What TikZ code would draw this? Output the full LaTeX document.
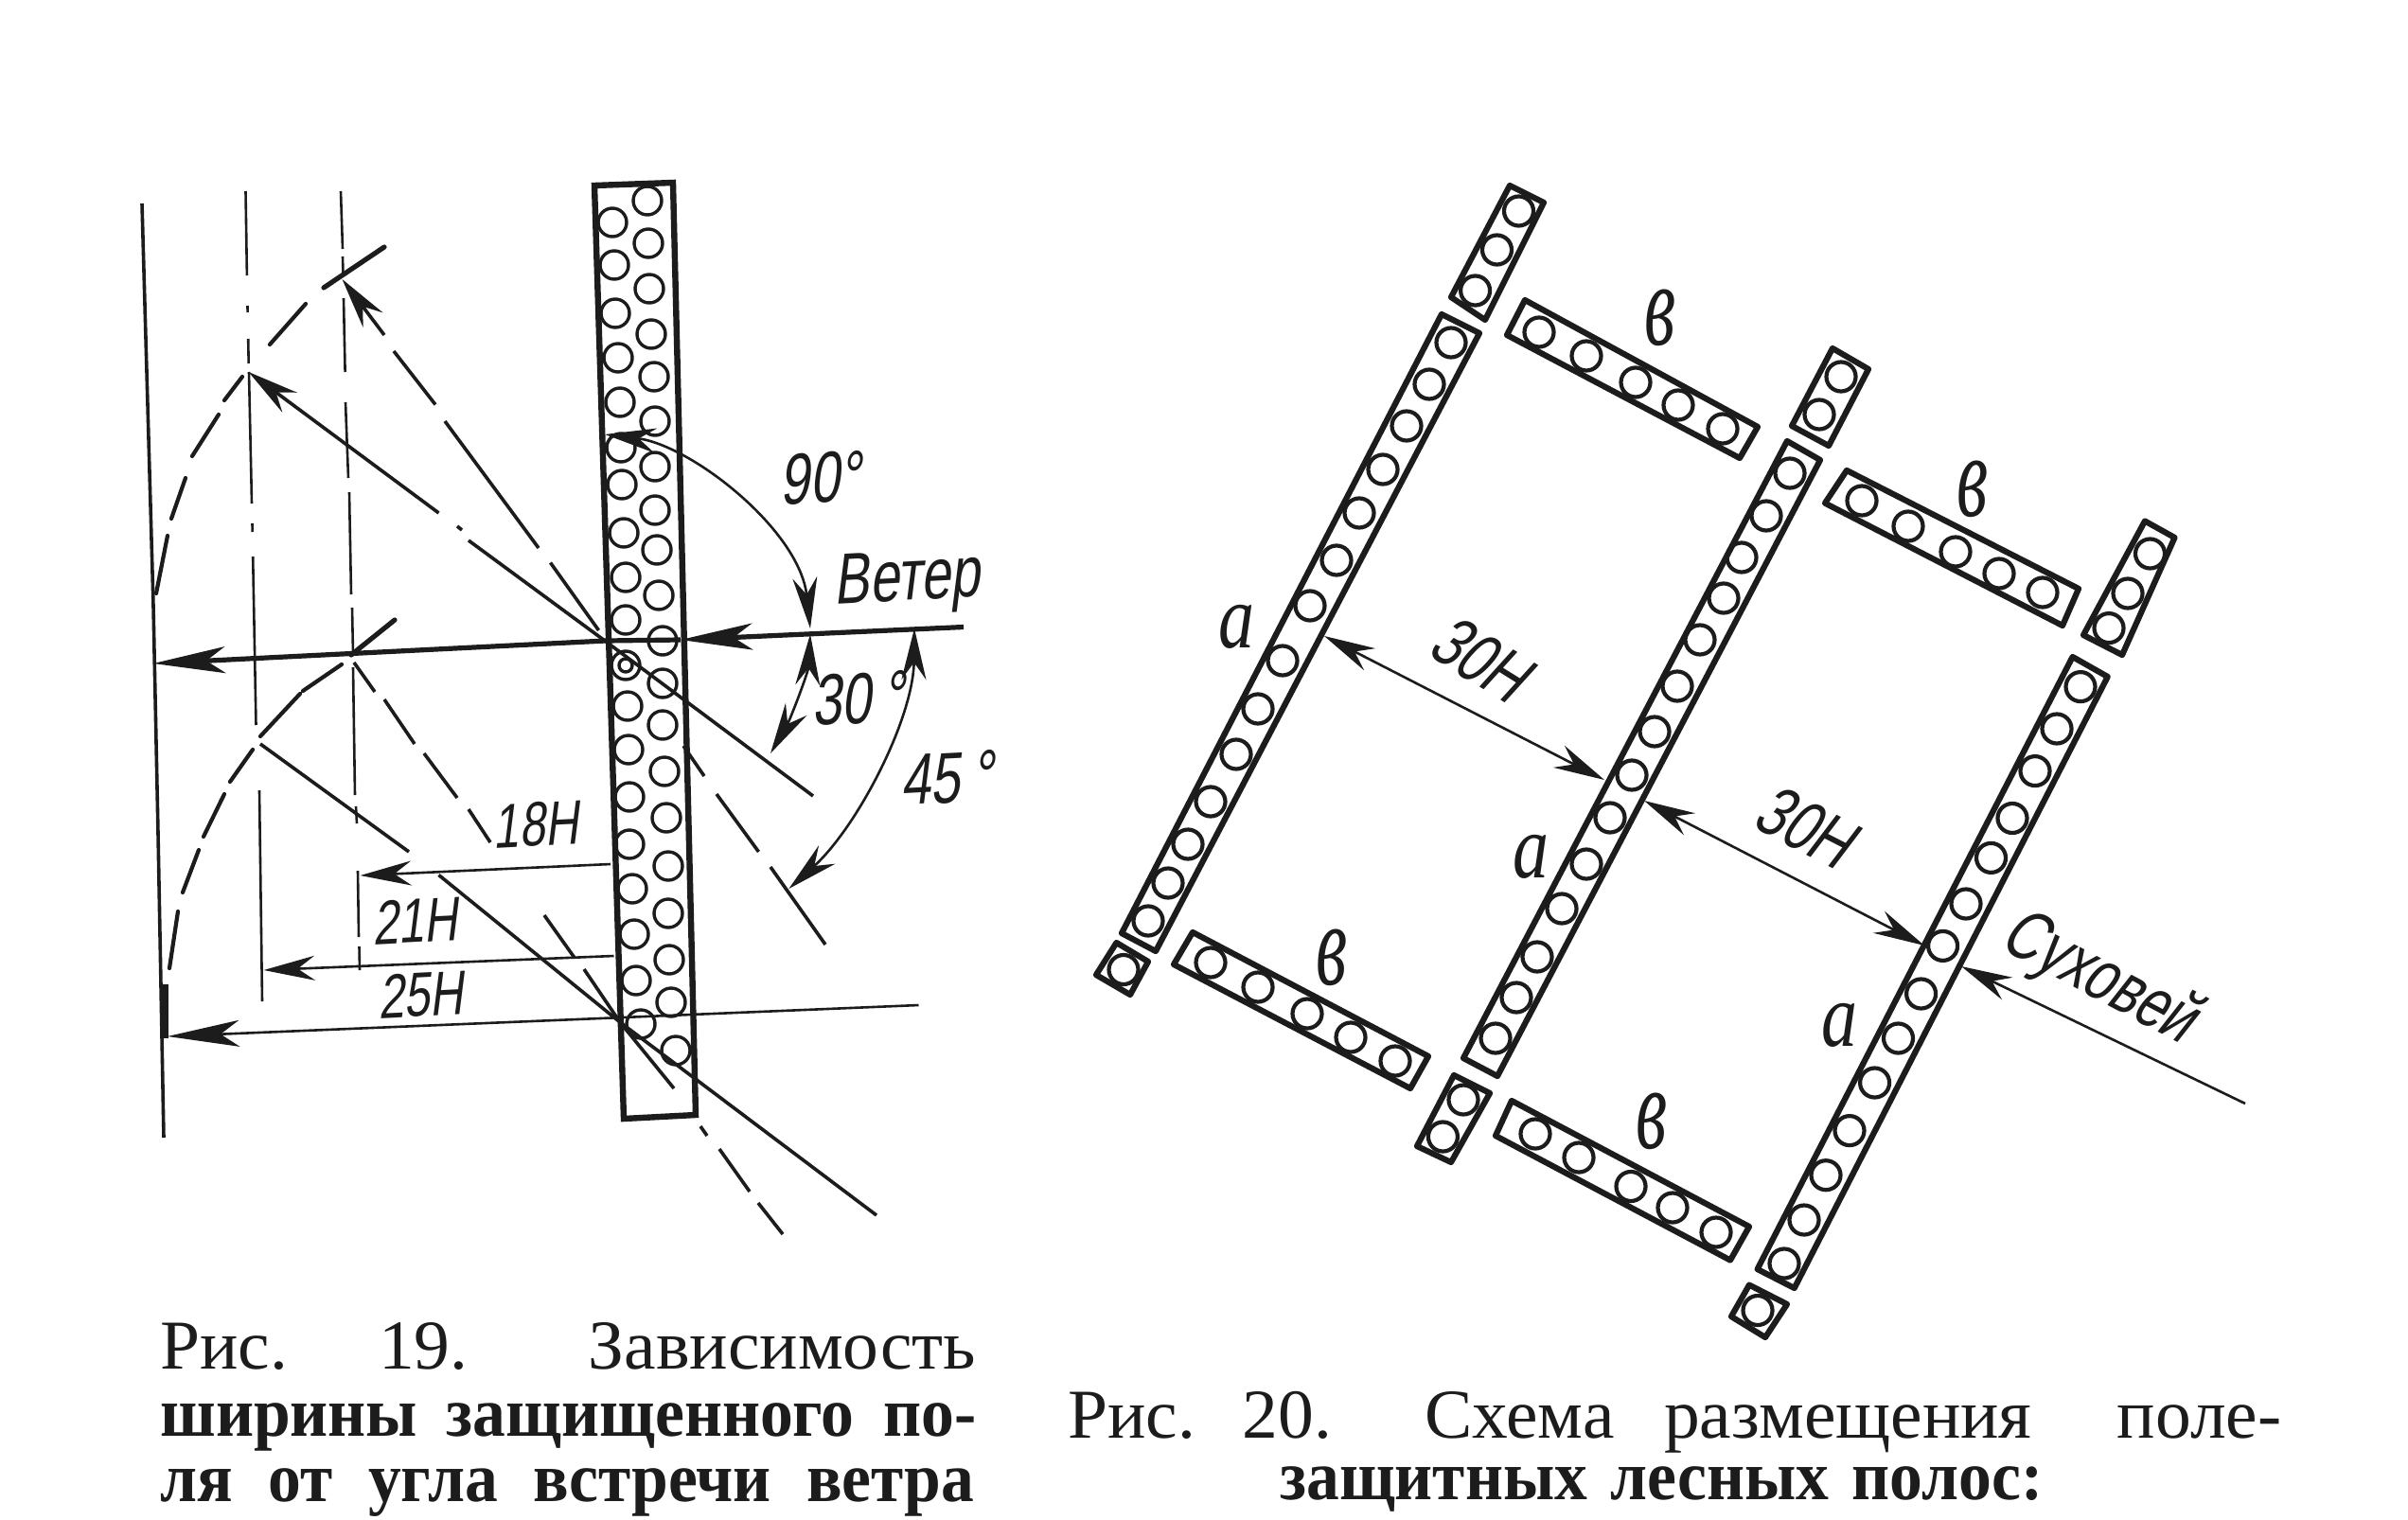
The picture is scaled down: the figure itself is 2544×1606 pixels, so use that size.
\documentclass[tikz,border=0pt]{standalone}
\usepackage{fontspec}
\usetikzlibrary{arrows.meta}
\setmainfont{Liberation Serif}
\newfontfamily\capreg[FakeStretch=1.02]{Liberation Serif}
\newfontfamily\capbold[FakeStretch=0.94]{Liberation Serif Bold}
\newfontfamily\handf[FakeStretch=0.74,FakeSlant=0.18]{Liberation Sans}
\newfontfamily\handi{Liberation Serif Italic}
\newcommand\capline[3]{\makebox[#1][s]{\fontsize{#2}{#2}\selectfont #3}}
\newcommand\wgap[1]{\hskip0pt plus #1fil\relax}
\newcommand\tallb{\scalebox{.95}[1.55]{в}}
\newcommand\talla{\scalebox{.95}[1.2]{а}}
\definecolor{ink}{HTML}{1C1C1C}
\tikzset{
  thick line/.style={draw=ink,line width=2.6pt},
  thin line/.style={draw=ink,line width=1.3pt},
  mid line/.style={draw=ink,line width=1.8pt},
  arc dash/.style={draw=ink,line width=2.1pt,line cap=round},
  beltbox/.style={draw=ink,line width=3.1pt,line join=round},
  treec/.style={draw=ink,line width=2.1pt},
  treel/.style={draw=ink,line width=1.7pt},
  bighead/.tip={Stealth[length=38pt,width=14pt,inset=10pt]},
  smallhead/.tip={Stealth[length=27pt,width=13pt,inset=9pt]},
  hand/.style={text=ink,inner sep=0pt,font=\handf\fontsize{33}{33}\selectfont},
  handbig/.style={text=ink,inner sep=0pt,font=\handf\fontsize{38}{38}\selectfont},
  letter/.style={text=ink,inner sep=0pt,font=\handi\fontsize{40}{40}\selectfont},
  captext/.style={text=ink,inner sep=0pt,anchor=base west},
}
\newcommand\trees[1]{\foreach \px/\py in {#1}{\draw[treec] (\px,\py) circle[radius=15.5];}}
\newcommand\treesl[1]{\foreach \px/\py in {#1}{\draw[treel] (\px,\py) circle[radius=15];}}
\newcommand\belt[4]{\draw[beltbox] #1 -- #2 -- #3 -- #4 -- cycle;}
\begin{document}
\begin{tikzpicture}[x=0.5pt,y=-0.5pt]
\useasboundingbox[fill=white] (0,0) rectangle (2544,1606);
% ---------- Fig 19: strip
\draw[draw=ink,line width=3.2pt,line join=miter] (628,196) -- (711,193) -- (735,1178) -- (659,1182) -- cycle;
\treesl{647/235,649/280,650/331,653/378,655/425,656/473,657/512,659/563,661/610,661/655,661/703,663/746,664/792,665/842,665/892,668/939,670/987,672/1036,677/1082,684/212,685/257,686/305,688/353,691/398,692/445,692/493,692/539,694/581,696/629,700/677,700/722,700/766,702/815,704/864,706/915,706/965,707/1014,709/1059,714/1110}
\draw[treel] (661,703) circle[radius=7];
% left boundary
\draw[mid line] (150,215) -- (162,640) -- (167,880) -- (173,1202);
\draw[draw=ink,line width=4.5pt] (173,1040) -- (173,1097);
% dash-dot vertical
\draw[thin line]
  (259.5,202) -- (260.9,291)  (261.5,323) -- (261.6,330)  (262.2,358) -- (262.7,384)
  (263,393) -- (266,532)  (266.5,553) -- (266.7,562)  (267.2,588) -- (270.5,766)
  (274,835) -- (277,1058);
% dashed vertical
\draw[thin line] (360,202) -- (362,263) (362,271) -- (362.5,289) (363,315) -- (364.6,393)
  (365,425) -- (368,505) (369,520) -- (371,628) (372,642) -- (373,690)
  (373,705) -- (375,840) (376,852) -- (377,870) (378,920) -- (379,990) (379.5,1000) -- (380,1025);
% arcs (upper)
\draw[arc dash] (165,627) -- (177,566) (181,548) -- (196,505) (203,482) -- (231,438) (237,423) -- (256,398) (285,364) -- (323,321);
\draw[arc dash,line width=2.6pt] (342,304) -- (406,261);
% arcs (lower)
\draw[arc dash] (179,1023) -- (188,963) (193,943) -- (210,898) (215,884) -- (237,839) (243,826) -- (267,792) (275,778) -- (317,733) (320,730) -- (361,702);
\draw[arc dash,line width=2.6pt] (371,692) -- (417,655);
% main horizontal
\coordinate (mL) at (162,701); \coordinate (mR) at (1018,662.5);
\draw[thick line,-{bighead}] (640,677) -- (mL);
\draw[thick line,-{bighead}] (mR) -- (719,676);
\draw[thick line] (719,676) -- (640,677);
% centre rays
\draw[mid line,-{smallhead}] (463.5,542) -- (262.6,393);
\draw[mid line] (483,556) -- (488,560) (495,571) -- (639,677) -- (859,841);
\draw[mid line] (632.5,666) -- (581.5,594.5) (569,579) -- (470,445) (460,427.5) -- (416,371);
\draw[mid line,-{smallhead}] (406,354) -- (361.5,295);
% lower right dashed ray
\draw[mid line] (722,788) -- (744,820) (757,839) -- (801.5,900) (814,916) -- (872,998);
% lower left dashed
\draw[mid line] (374,700) -- (396,731) (406,739) -- (438,786) (448,796) -- (483,843) (495,855) -- (518,890)
  (575,967) -- (607,1012) (617,1024) -- (655,1080) -- (712,1150) (740,1190) -- (747,1200) (760,1214) -- (792,1259) (801,1271) -- (827,1304);
% lower left solid
\draw[mid line] (275,786) -- (432,900) (463.5,924.5) -- (655,1080) -- (926,1284);
% horizontals
\draw[thin line,-{bighead}] (970.5,1062) -- (177,1095);
\draw[thin line,-{smallhead}] (645,913) -- (380.6,925);
\draw[thin line,-{smallhead}] (648.5,1010) -- (278.6,1025);
% angle arcs
\draw[thin line,{smallhead}-{smallhead}] (639,459) .. controls (730,470) and (845,560) .. (856,664);
\draw[thin line,{smallhead}-{smallhead}] (856,670) .. controls (854,710) and (835,760) .. (814,796);
\draw[thin line,{smallhead}-{smallhead}] (966,664) .. controls (965,760) and (905,875) .. (833.4,939);
% labels
\node[handbig,rotate=3] (ninety) at (866,505) {90°};
\node[handbig,rotate=3] (veter) at (958,616) {Ветер};
\node[handbig,rotate=3] (thirty) at (906,738) {30\,°};
\node[handbig,rotate=3] (forty) at (1000,822) {45\,°};
\node[hand,rotate=3] (h18) at (565.5,871) {18H};
\node[hand,rotate=3] (h21) at (438,973) {21H};
\node[hand,rotate=3] (h25) at (444,1051) {25H};
% ---------- Fig 20
\belt{(1595,196)}{(1631,214)}{(1569,338)}{(1533,314)}
\trees{1604.5/223,1581.5/264,1558.6/307}
\belt{(1523,332)}{(1563,352)}{(1221,1005)}{(1185,986)}
\trees{1533/362,1510/406,1486/450,1461/496,1436/542,1412/592,1384/640,1355/698,1329/749,1306/797,1279/847,1255/892,1234/933,1213/973}
\belt{(1611,317)}{(1857,451)}{(1838,484)}{(1592,354)}
\trees{1626/351,1676/376,1728/404,1773/428,1820/453}
\belt{(1936,368)}{(1974,390)}{(1932,471)}{(1893,450)}
\trees{1945/398,1922/438}
\belt{(1888,466)}{(1923,486)}{(1582,1137)}{(1546,1118)}
\trees{1891/500,1866/545,1840/589,1821/632,1796/676,1772/725,1748/773,1724/819,1701/864,1676/913,1650/960,1624/1011,1602/1054,1580/1097}
\belt{(1260,985)}{(1509,1116)}{(1490,1150)}{(1240,1019)}
\trees{1279/1017,1329/1043,1381/1071,1427/1096,1474/1121}
\belt{(1179.5,996)}{(1213,1016)}{(1194,1051)}{(1158,1030)}
\trees{1187/1024.5}
\belt{(1536,1136)}{(1574,1155)}{(1533,1228)}{(1497,1211)}
\trees{1546/1162,1524.4/1201}
\belt{(1597,1163)}{(1848,1296)}{(1828,1331.5)}{(1580,1200)}
\trees{1622/1198,1668/1223,1723/1253.5,1767/1276,1813/1302}
\belt{(1848,1357.6)}{(1888,1378)}{(1865,1413)}{(1829,1391)}
\trees{1857/1384.5}
\belt{(2189.6,694)}{(2226.7,715)}{(1895.7,1361)}{(1856.6,1341)}
\trees{2198/725.6,2173/770,2150/814.6,2126/864.5,2103.5/906.4,2077/955,2052.6/999.4,2029.6/1050,2005.5/1097,1980.6/1144,1954/1194.6,1929/1241.7,1906/1289,1885/1335}
\belt{(1951,497)}{(2196,622)}{(2179,661)}{(1928,531.6)}
\trees{1967/529,2016/556,2066/583,2112/606,2158/626}
\belt{(2266,550.5)}{(2297.5,568)}{(2242,692)}{(2201,671)}
\trees{2271.5/585,2248/627,2228/663.6}
% arrows
\draw[thin line,{smallhead}-{smallhead}] (1399,672) -- (1695,824);
\draw[thin line,{smallhead}-{smallhead}] (1737,846) -- (2033,999);
\draw[thin line,{smallhead}-] (2072,1021) -- (2372,1166);
% labels
\node[handbig,rotate=-32] (h30a) at (1564,696) {30H};
\node[handbig,rotate=-27] (h30b) at (1907,873) {30H};
\node[handbig,rotate=-28] (suh) at (2217,1034) {Суховей};
\node[letter] (a1) at (1306,662) {\talla};
\node[letter] (a2) at (1617,905) {\talla};
\node[letter] (a3) at (1943.5,1083) {\talla};
\node[letter] (b1) at (1753.5,336) {\tallb};
\node[letter] (b2) at (1407,1011.5) {\tallb};
\node[letter] (b3) at (1745,1185) {\tallb};
\node[letter] (b4) at (2084,517) {\tallb};
% captions
\node[captext] (c1) at (169,1446) {\capreg\capline{431pt}{37pt}{Рис.\wgap{58}19.\wgap{77}Зависимость}};
\node[captext] (c2) at (169,1517) {\capbold\capline{431pt}{37pt}{ширины защищенного по-}};
\node[captext] (c3) at (169,1586) {\capbold\capline{430pt}{37pt}{ля от угла встречи ветра}};
\node[captext] (c4) at (1128,1519) {\capreg\capline{641pt}{37pt}{Рис.\wgap{33}20.\wgap{65}Схема\wgap{35}размещения\wgap{60}поле-}};
\node[captext] (c5) at (1352,1584) {\capbold\capline{403pt}{37pt}{защитных лесных полос:}};
\end{tikzpicture}
\end{document}
